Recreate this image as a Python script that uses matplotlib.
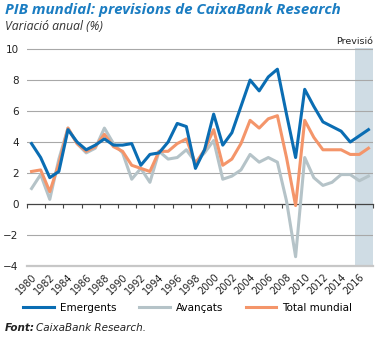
import numpy as np
import matplotlib
matplotlib.use("Agg")
from matplotlib import pyplot as plt

years = np.arange(1980, 2018)
forecast_years = [2016, 2017]

emergents = [3.9, 3.0, 1.7, 2.1, 4.8, 4.0, 3.5, 3.8, 4.2, 3.8,
             3.8, 3.9, 2.5, 3.2, 3.3, 4.0, 5.2, 5.0, 2.3, 3.5,
             5.8, 3.8, 4.6, 6.3, 8.0, 7.3, 8.2, 8.7, 5.8, 3.0,
             7.4, 6.3, 5.3, 5.0, 4.7, 4.0, 4.4, 4.8]
avancats = [1.0, 1.9, 0.3, 2.9, 4.9, 3.9, 3.3, 3.6, 4.9, 3.9,
            3.3, 1.6, 2.3, 1.4, 3.4, 2.9, 3.0, 3.5, 2.7, 3.3,
            4.1, 1.6, 1.8, 2.2, 3.2, 2.7, 3.0, 2.7, 0.2, -3.4,
            3.0, 1.7, 1.2, 1.4, 1.9, 1.9, 1.5, 1.8]
total = [2.1, 2.2, 0.8, 2.6, 4.9, 3.9, 3.4, 3.7, 4.5, 3.7,
         3.4, 2.5, 2.3, 2.1, 3.4, 3.4, 3.9, 4.2, 2.6, 3.5,
         4.8, 2.5, 2.9, 3.9, 5.4, 4.9, 5.5, 5.7, 3.0, -0.1,
         5.4, 4.3, 3.5, 3.5, 3.5, 3.2, 3.2, 3.6]

blue = '#0a6db3'
grey = '#b5c3c8'
orange = '#f4956a'

fig = plt.figure(figsize=(3.76, 3.38), dpi=100)
ax = fig.add_axes([27 / 376, 1 - 266 / 338, 346 / 376, (266 - 47.5) / 338])

ax.axvspan(forecast_years[0] - 0.5, forecast_years[-1] + 0.5, color='#cfdce4', lw=0, zorder=0)
for v in range(-4, 11, 2):
    if v != 0:
        ax.axhline(v, color='#a8a8a8', lw=0.8, zorder=1)

ax.plot(years, avancats, color=grey, lw=2.2, zorder=3, label='Avançats')
ax.plot(years, total, color=orange, lw=2.2, zorder=4, label='Total mundial')
ax.plot(years, emergents, color=blue, lw=2.2, zorder=5, label='Emergents')

ax.set_xlim(years[0] - 0.5, years[-1] + 0.5)
ax.set_ylim(-4, 10.1)
ax.set_yticks(range(-4, 11, 2))
ax.tick_params(axis='y', length=0, pad=6, labelsize=7.5, labelcolor='#222222')

# zero axis with tick marks
for s in ['top', 'right', 'left']:
    ax.spines[s].set_visible(False)
ax.spines['bottom'].set_position(('data', 0))
ax.spines['bottom'].set_color('#444444')
ax.spines['bottom'].set_linewidth(0.9)
ax.spines['bottom'].set_zorder(2)
ax.set_xticks(np.arange(years[0] - 0.5, years[-1] + 1, 2))
ax.tick_params(axis='x', direction='out', length=3, width=0.8, color='#444444', labelbottom=False)

sec = ax.secondary_xaxis(0.0)
sec.set_xticks(years[::2])
sec.set_xticklabels([str(y) for y in years[::2]], rotation=45, ha='right', rotation_mode='anchor')
sec.tick_params(length=0, pad=4, labelsize=7, labelcolor='#222222')
sec.spines['bottom'].set_color('#c8c8c8')
sec.spines['bottom'].set_linewidth(1.6)

title = fig.text(0.012, 0.99, 'PIB mundial: previsions de CaixaBank Research', color='#1b7dc2',
                 fontsize=12, fontweight='bold', fontstyle='italic', family='Open Sans', va='top')
fig.canvas.draw()
w = title.get_window_extent().width
title.set_fontsize(12 * 335 / w)

fig.text(0.013, 0.94, 'Variació anual (%)', color='#333333', fontsize=8.8,
         fontstyle='italic', family='Open Sans', va='top')
fig.text(0.992, 1 - 42 / 338, 'Previsió', fontsize=6.8, color='#222222', ha='right', va='center')

handles, labels = ax.get_legend_handles_labels()
order = [2, 0, 1]
fig.legend([handles[i] for i in order], [labels[i] for i in order], loc='center',
           bbox_to_anchor=(0.5, 1 - 308 / 338), ncol=3, frameon=False, fontsize=7.5,
           handlelength=2.9, columnspacing=2.2, handletextpad=0.6)

t1 = fig.text(0.012, 1 - 328 / 338, 'Font:', fontsize=7.5, fontweight='bold', fontstyle='italic',
              va='center', color='#222222')
fig.canvas.draw()
bb = t1.get_window_extent()
fig.text(bb.x1 / fig.bbox.width + 0.004, 1 - 328 / 338, 'CaixaBank Research.', fontsize=7.5,
         fontstyle='italic', va='center', color='#222222')

fig.savefig('out.png', dpi=100)
